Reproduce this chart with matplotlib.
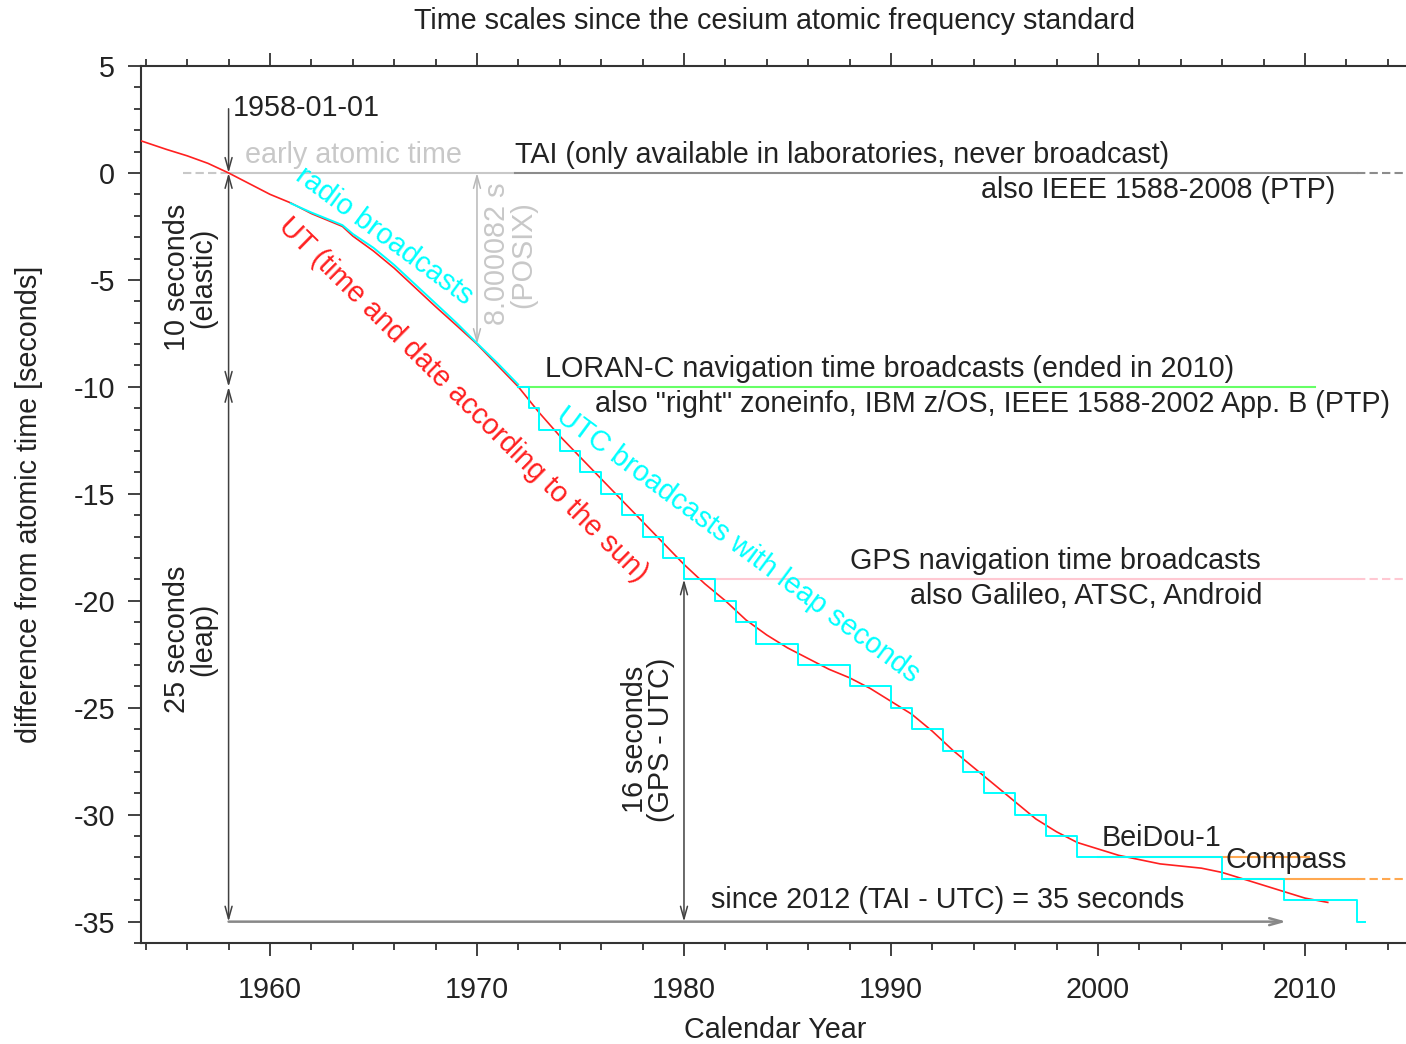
import matplotlib
matplotlib.use("Agg")
import matplotlib.pyplot as plt
from matplotlib.ticker import MultipleLocator

plt.rcParams['font.family'] = ['Liberation Sans', 'DejaVu Sans']
plt.rcParams['axes.unicode_minus'] = False

# UT (UT1 - TAI)
ut_years = [1953.77, 1955, 1956, 1957, 1958, 1959, 1960, 1961, 1962, 1963, 1963.5, 1964, 1965,
            1966, 1967, 1968, 1969, 1970, 1971, 1972, 1973, 1974, 1975, 1976, 1977, 1978,
            1979, 1980, 1981, 1982, 1983, 1984, 1985, 1986, 1987, 1988, 1989, 1990, 1991,
            1992, 1993, 1994, 1995, 1996, 1997, 1998, 1999, 2000, 2001, 2002, 2003, 2004,
            2005, 2006, 2007, 2008, 2009, 2010, 2011.1]
ut_diff = [1.5, 1.1, 0.8, 0.45, 0.0, -0.5, -1.0, -1.4, -1.9, -2.3, -2.5, -2.95, -3.65,
           -4.45, -5.35, -6.25, -7.12, -8.0, -9.0, -10.0, -11.2, -12.3, -13.3, -14.3, -15.3, -16.3,
           -17.3, -18.3, -19.2, -20.0, -20.9, -21.6, -22.2, -22.7, -23.2, -23.6, -24.1, -24.7, -25.3,
           -26.1, -27.0, -27.8, -28.6, -29.4, -30.2, -30.8, -31.3, -31.6, -31.9, -32.1, -32.3, -32.4,
           -32.5, -32.7, -33.0, -33.3, -33.6, -33.9, -34.1]

# radio broadcasts (elastic seconds), UTC - TAI
radio_years = [1961.0, 1962.0, 1963.0, 1963.5, 1964.0, 1965.0, 1966.0, 1967.0, 1968.0,
               1969.0, 1970.0, 1971.0, 1971.99]
radio_diff = [-1.42, -1.85, -2.24, -2.44, -2.85, -3.5, -4.3, -5.2, -6.1,
              -7.0, -7.96, -8.9, -9.89]

# UTC with leap seconds, UTC - TAI
leap_years = [1972.0, 1972.5, 1973.0, 1974.0, 1975.0, 1976.0, 1977.0, 1978.0, 1979.0, 1980.0,
              1981.5, 1982.5, 1983.5, 1985.5, 1988.0, 1990.0, 1991.0, 1992.5, 1993.5, 1994.5,
              1996.0, 1997.5, 1999.0, 2006.0, 2009.0, 2012.5, 2012.9]
leap_diff = [-10, -11, -12, -13, -14, -15, -16, -17, -18, -19,
             -20, -21, -22, -23, -24, -25, -26, -27, -28, -29,
             -30, -31, -32, -33, -34, -35, -35]

FS = 20.7
DARK = '#222222'
LIGHT = '#c8c8c8'

fig = plt.figure(figsize=(14.06, 10.44), dpi=100)
ax = fig.add_axes([0.1003, 0.0967, 0.8997, 0.8401])
ax.set_xlim(1953.77, 2014.88)
ax.set_ylim(-36, 5)

# reference lines
ax.plot([1955.8, 1958], [0, 0], color=LIGHT, lw=1.5, ls=(0, (4, 2)))
ax.plot([1958, 1971.84], [0, 0], color=LIGHT, lw=1.5)
ax.plot([1971.84, 2012.5], [0, 0], color='#8c8c8c', lw=1.5)
ax.plot([2012.5, 2014.88], [0, 0], color='#8c8c8c', lw=1.5, ls=(0, (4, 2)))
ax.plot([1972, 2010.5], [-10, -10], color='#66ff66', lw=1.5)
ax.plot([1980, 2012.5], [-19, -19], color='#ffc8d2', lw=1.5)
ax.plot([2012.5, 2014.88], [-19, -19], color='#ffc8d2', lw=1.5, ls=(0, (4, 2)))
ax.plot([2000, 2010.2], [-32, -32], color='#ffa850', lw=1.5)
ax.plot([2006, 2012.5], [-33, -33], color='#ffa850', lw=1.5)
ax.plot([2012.5, 2014.88], [-33, -33], color='#ffa850', lw=1.5, ls=(0, (4, 2)))

# data series
ax.plot(ut_years, ut_diff, color='#ff2020', lw=1.2, zorder=3)
ax.plot(radio_years, radio_diff, color='#00ffff', lw=1.4, zorder=4)
ax.plot(leap_years, leap_diff, color='#00ffff', lw=1.4, drawstyle='steps-post', zorder=4)

# arrows
def arrow(x0, y0, x1, y1, style, color='#404040', lw=1.1):
    ax.annotate('', xy=(x1, y1), xytext=(x0, y0),
                arrowprops=dict(arrowstyle=style + ',head_length=0.9,head_width=0.25',
                                color=color, lw=lw, shrinkA=0, shrinkB=0))

arrow(1958, 3.0, 1958, 0, '->')
arrow(1958, 0, 1958, -10, '<->')
arrow(1958, -10, 1958, -35, '<->')
arrow(1970, 0, 1970, -8, '<->', color='#b8b8b8')
arrow(1980, -19, 1980, -35, '<->')
arrow(1958, -35, 2009.1, -35, '->', color='#888888', lw=1.8)

# labels
ax.text(1958.21, 3.04, '1958-01-01', fontsize=FS, color=DARK, va='center')
ax.text(1958.8, 0.84, 'early atomic time', fontsize=FS, color=LIGHT, va='center')
ax.text(1971.84, 0.84, 'TAI (only available in laboratories, never broadcast)',
        fontsize=FS, color=DARK, va='center')
ax.text(2011.45, -0.8, 'also IEEE 1588-2008 (PTP)', fontsize=FS, color=DARK,
        va='center', ha='right')
ax.text(1973.29, -9.16, 'LORAN-C navigation time broadcasts (ended in 2010)',
        fontsize=FS, color=DARK, va='center')
ax.text(2014.1, -10.8, 'also "right" zoneinfo, IBM z/OS, IEEE 1588-2002 App. B (PTP)',
        fontsize=FS, color=DARK, va='center', ha='right')
ax.text(1988.02, -18.13, 'GPS navigation time broadcasts', fontsize=FS, color=DARK, va='center')
ax.text(1990.9, -19.8, 'also Galileo, ATSC, Android', fontsize=FS, color=DARK, va='center')
ax.text(2000.2, -31.07, 'BeiDou-1', fontsize=FS, color=DARK, va='center')
ax.text(2006.14, -32.1, 'Compass', fontsize=FS, color=DARK, va='center')
ax.text(1981.3, -33.97, 'since 2012 (TAI - UTC) = 35 seconds', fontsize=FS, color=DARK,
        va='center')

ax.text(1956.14, -4.9, '10 seconds\n(elastic)', fontsize=FS, color=DARK, rotation=90,
        ha='center', va='center', multialignment='center', linespacing=0.95)
ax.text(1956.14, -21.8, '25 seconds\n(leap)', fontsize=FS, color=DARK, rotation=90,
        ha='center', va='center', multialignment='center', linespacing=0.95)
ax.text(1971.6, -3.8, '8.000082 s\n(POSIX)', fontsize=FS, color=LIGHT, rotation=90,
        ha='center', va='center', multialignment='center', linespacing=0.95)
ax.text(1978.26, -26.5, '16 seconds\n(GPS - UTC)', fontsize=FS, color=DARK, rotation=90,
        ha='center', va='center', multialignment='center', linespacing=0.95)

ax.text(1969.33, -10.6, 'UT (time and date according to the sun)', fontsize=FS,
        color='#ff2020', rotation=-44.6, rotation_mode='anchor', ha='center', va='center')
ax.text(1965.5, -2.95, 'radio broadcasts', fontsize=FS, color='#00ffff',
        rotation=-36.5, rotation_mode='anchor', ha='center', va='center')
ax.text(1982.61, -17.4, 'UTC broadcasts with leap seconds', fontsize=FS, color='#00ffff',
        rotation=-36.5, rotation_mode='anchor', ha='center', va='center')

# axes styling
ax.xaxis.set_major_locator(MultipleLocator(10))
ax.xaxis.set_minor_locator(MultipleLocator(2))
ax.yaxis.set_major_locator(MultipleLocator(5))
ax.yaxis.set_minor_locator(MultipleLocator(1))
ax.tick_params(which='both', direction='out', top=True, right=False, colors='#333333',
               labelsize=FS, labelcolor=DARK, width=1.3)
ax.tick_params(which='major', length=9.5)
ax.tick_params(which='minor', length=5)
ax.tick_params(axis='x', pad=14)
ax.tick_params(axis='y', pad=9)
ax.spines['right'].set_visible(False)
for s in ['left', 'bottom', 'top']:
    ax.spines[s].set_color('#333333')
    ax.spines[s].set_linewidth(1.5)

ax.set_ylabel('difference from atomic time [seconds]', fontsize=FS, color=DARK, labelpad=22)
fig.text(0.551, 0.0134, 'Calendar Year', fontsize=FS, color=DARK, ha='center', va='center')
fig.text(0.551, 0.980, 'Time scales since the cesium atomic frequency standard',
         fontsize=FS, color=DARK, ha='center', va='center')

fig.savefig('out.png', dpi=100)
